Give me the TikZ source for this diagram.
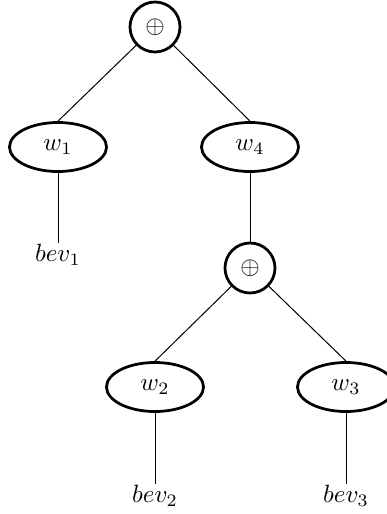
\documentclass[tikz,border=0pt]{standalone}
\usepackage{amsmath,amssymb}
\usepackage{tikz}
\usetikzlibrary{shapes.geometric}

\begin{document}
\begin{tikzpicture}[x=0.4pt,y=-0.4pt,
  opnode/.style={circle,draw,line width=1.1pt,minimum size=20pt,inner sep=0pt},
  wnode/.style={ellipse,draw,line width=1.1pt,minimum width=38.8pt,minimum height=19.6pt,inner sep=0pt},
  leaf/.style={inner sep=0.5pt}]
\useasboundingbox (0,0) rectangle (387,514);
% upper sum and its two weights
\node[opnode] (s1) at (155,27) {$\oplus$};
\node[wnode] (w1) at (58,147) {$w_1$};
\node[wnode] (w4) at (250,147) {$w_4$};
\node[leaf] (b1) at (58,255) {$bev_1$};
% lower sum below w4
\node[opnode] (s2) at (250,268) {$\oplus$};
\node[wnode] (w2) at (155,387) {$w_2$};
\node[wnode] (w3) at (346,387) {$w_3$};
\node[leaf] (b2) at (155,496) {$bev_2$};
\node[leaf] (b3) at (346,496) {$bev_3$};
% edges
\draw (s1) -- (w1.north);
\draw (s1) -- (w4.north);
\draw (w1) -- (b1);
\draw (w4) -- (s2);
\draw (s2) -- (w2.north);
\draw (s2) -- (w3.north);
\draw (w2) -- (b2);
\draw (w3) -- (b3);
\end{tikzpicture}
\end{document}
